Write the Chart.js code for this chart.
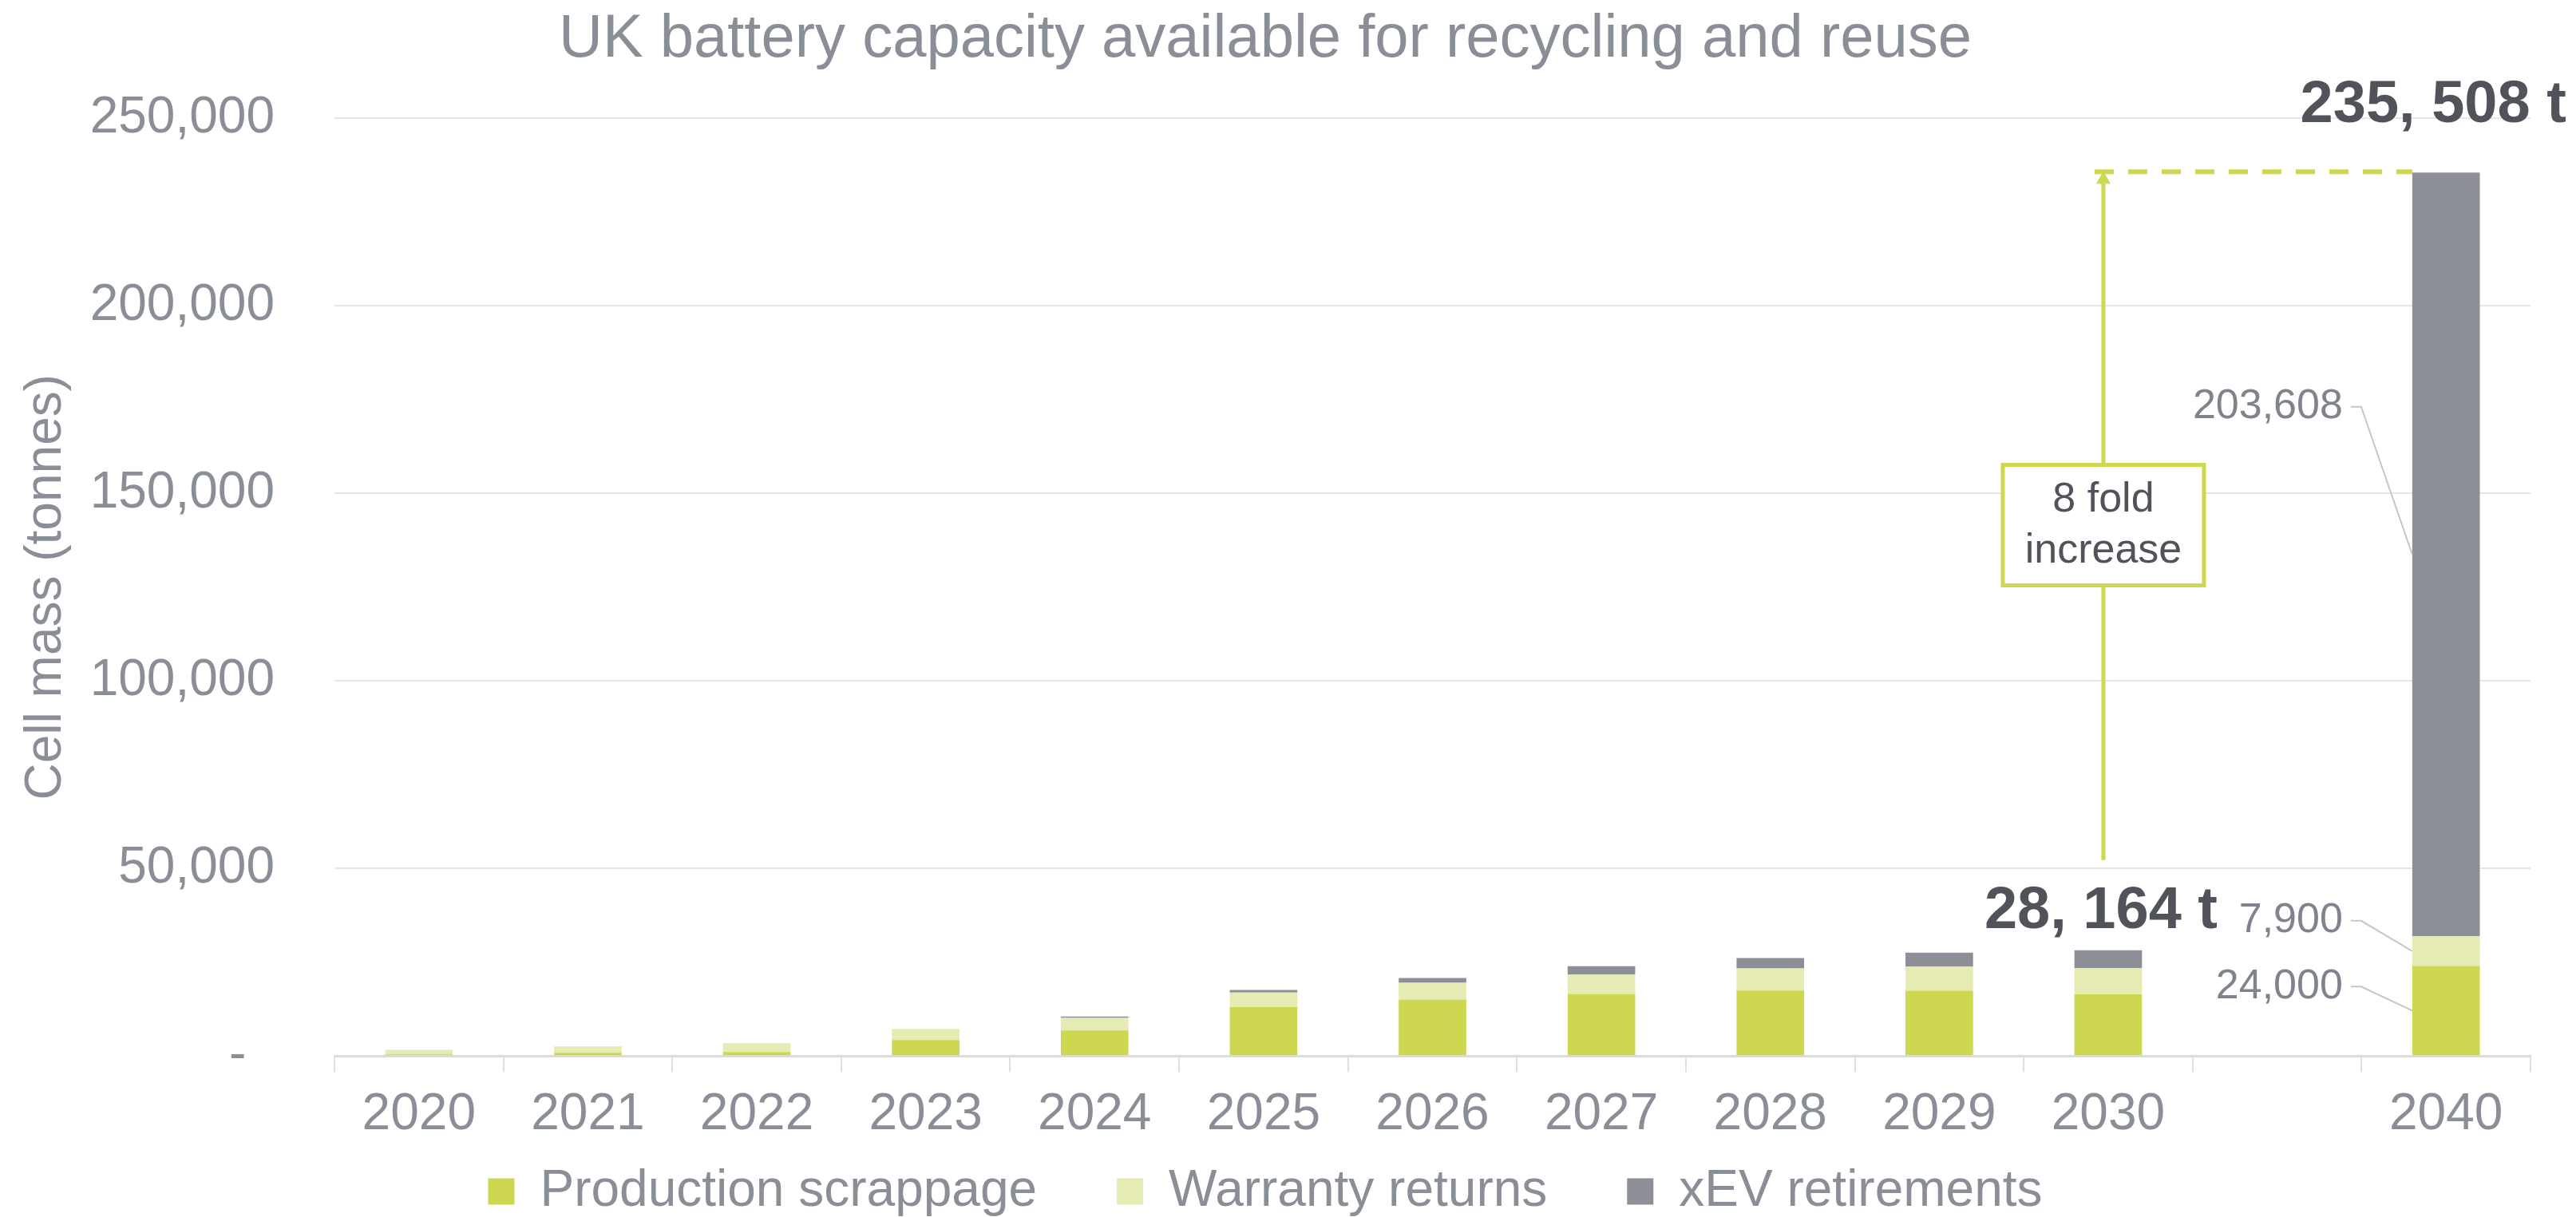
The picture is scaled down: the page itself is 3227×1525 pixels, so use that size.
<!DOCTYPE html>
<html><head><meta charset="utf-8">
<script src="https://cdn.jsdelivr.net/npm/chart.js@4.4.0/dist/chart.umd.min.js"></script>
<style>html,body{margin:0;padding:0;background:#fff;} canvas{display:block;}</style>
</head><body>
<canvas id="c" width="3227" height="1525"></canvas>
<script>
const categories = ['2020','2021','2022','2023','2024','2025','2026','2027','2028','2029','2030','','2040'];
const productionScrappage = [430, 850, 1060, 4250, 6800, 13100, 14970, 16530, 17450, 17380, 16400, null, 24000];
const warrantyReturns     = [1210, 1700, 2340, 2920, 3350, 3780, 4530, 5170, 5890, 6450, 7000, null, 7900];
const xevRetirements      = [0, 0, 0, 0, 350, 720, 1280, 2200, 2760, 3690, 4764, null, 203608];
const seriesNames = ['Production scrappage', 'Warranty returns', 'xEV retirements'];
const yTickValues = [0, 50000, 100000, 150000, 200000, 250000];
const titleText = 'UK battery capacity available for recycling and reuse';
const yTitleText = 'Cell mass (tonnes)';
const boxLines = ['8 fold', 'increase'];

const FONT = "'Liberation Sans', Arial, Helvetica, sans-serif";
const GREY = '#8a8e96';
const DARK = '#505359';
const LABEL = '#7f838b';
const GREEN = '#cdd74f';
const LIGHT = '#e6eab3';
const XEV = '#8c8f96';
const seriesList = [productionScrappage, warrantyReturns, xevRetirements];
const fmt = v => v.toLocaleString('en-US');

Chart.defaults.font.family = FONT;

const annotations = {
  id: 'annotations',
  afterDatasetsDraw(chart) {
    const ctx = chart.ctx;
    const i30 = categories.indexOf('2030');
    const i40 = categories.indexOf('2040');
    const metas = chart.data.datasets.map((_, d) => chart.getDatasetMeta(d));
    const top30 = metas[2].data[i30];
    const top40 = metas[2].data[i40];
    const total = i => seriesList.reduce((s, arr) => s + (arr[i] || 0), 0);
    const totLabel = v => fmt(v).replace(',', ', ') + ' t';
    ctx.save();
    ctx.fillStyle = DARK;
    ctx.font = `bold 74px ${FONT}`;
    ctx.textAlign = 'center';
    ctx.textBaseline = 'alphabetic';
    ctx.fillText(totLabel(total(i30)), top30.x - 9, top30.y - 28);
    ctx.fillText(totLabel(total(i40)), top40.x - 16, top40.y - 63);

    const ax = top30.x - 6;
    const left40 = top40.x - top40.width / 2;
    ctx.strokeStyle = GREEN;
    ctx.lineWidth = 6;
    ctx.setLineDash([24, 18]);
    ctx.beginPath(); ctx.moveTo(ax - 11, top40.y - 1); ctx.lineTo(left40, top40.y - 1); ctx.stroke();
    ctx.setLineDash([]);
    const yBottom = top30.y - 113;
    const yTip = top40.y - 2;
    ctx.lineWidth = 5;
    ctx.beginPath(); ctx.moveTo(ax, yBottom); ctx.lineTo(ax, yTip + 14); ctx.stroke();
    ctx.fillStyle = GREEN;
    ctx.beginPath(); ctx.moveTo(ax, yTip); ctx.lineTo(ax - 9, yTip + 16); ctx.lineTo(ax + 9, yTip + 16); ctx.closePath(); ctx.fill();
    const bw = 252, bh = 151;
    const by = (yBottom + yTip) / 2 + 12;
    ctx.fillStyle = '#fff';
    ctx.fillRect(ax - bw / 2, by - bh / 2, bw, bh);
    ctx.lineWidth = 5; ctx.strokeStyle = GREEN;
    ctx.strokeRect(ax - bw / 2, by - bh / 2, bw, bh);
    ctx.fillStyle = DARK; ctx.font = `52px ${FONT}`; ctx.textBaseline = 'middle';
    ctx.fillText(boxLines[0], ax, by - 31);
    ctx.fillText(boxLines[1], ax, by + 33);

    const offs = [-30, -38, -185];
    ctx.font = `52px ${FONT}`;
    ctx.textAlign = 'right';
    ctx.textBaseline = 'middle';
    metas.forEach((m, d) => {
      const el = m.data[i40];
      const mid = (el.y + el.base) / 2;
      const ly = mid + offs[d];
      ctx.fillStyle = LABEL;
      ctx.fillText(fmt(seriesList[d][i40]), left40 - 87, ly);
      ctx.strokeStyle = '#c6c6c6';
      ctx.lineWidth = 2;
      ctx.beginPath();
      ctx.moveTo(left40 - 77, ly);
      ctx.lineTo(left40 - 64, ly);
      ctx.lineTo(left40, mid);
      ctx.stroke();
    });
    ctx.restore();
  }
};

new Chart(document.getElementById('c'), {
  type: 'bar',
  data: {
    labels: categories,
    datasets: [
      { label: seriesNames[0], data: productionScrappage, backgroundColor: GREEN },
      { label: seriesNames[1], data: warrantyReturns, backgroundColor: LIGHT },
      { label: seriesNames[2], data: xevRetirements, backgroundColor: XEV }
    ]
  },
  options: {
    responsive: false,
    animation: false,
    devicePixelRatio: 1,
    barPercentage: 0.4,
    categoryPercentage: 1.0,
    layout: { padding: { left: 0, right: 57, top: 0, bottom: -10 } },
    plugins: {
      tooltip: { enabled: false },
      title: {
        display: true, text: titleText, color: GREY,
        font: { size: 76, weight: 'normal' },
        padding: { top: 4, bottom: 53 }
      },
      legend: {
        position: 'bottom',
        labels: {
          color: GREY,
          font: { size: 64 },
          boxWidth: 33, boxHeight: 33,
          padding: 4,
          generateLabels(chart) {
            const items = Chart.defaults.plugins.legend.labels.generateLabels(chart);
            items.forEach((it, k) => {
              if (k < items.length - 1) it.text += '\u2003\u2002';
              it.lineWidth = 0;
            });
            return items;
          }
        }
      }
    },
    scales: {
      x: {
        stacked: true,
        grid: { display: true, drawOnChartArea: false, drawTicks: true, tickLength: 20, color: '#e0e0e0', lineWidth: 2, offset: true },
        border: { display: true, color: '#dcdcdc', width: 3 },
        ticks: { color: GREY, font: { size: 64 }, padding: 16, maxRotation: 0, autoSkip: false },
        afterFit: s => { s.height += 5; }
      },
      y: {
        stacked: true,
        min: 0, max: 250000,
        afterBuildTicks: s => { s.ticks = yTickValues.map(v => ({ value: v })); },
        grid: { color: '#e6e6e6', lineWidth: 2, drawTicks: false },
        border: { display: false },
        ticks: {
          color: GREY, font: { size: 64 }, padding: 75,
          callback: v => v === 0 ? '-\u2007' : fmt(v)
        },
        title: {
          display: true, text: yTitleText, color: GREY,
          font: { size: 64 }, padding: { top: 20, bottom: 16 }
        },
        afterFit: s => { s.width = 419; }
      }
    }
  },
  plugins: [annotations]
});
</script>
</body></html>
